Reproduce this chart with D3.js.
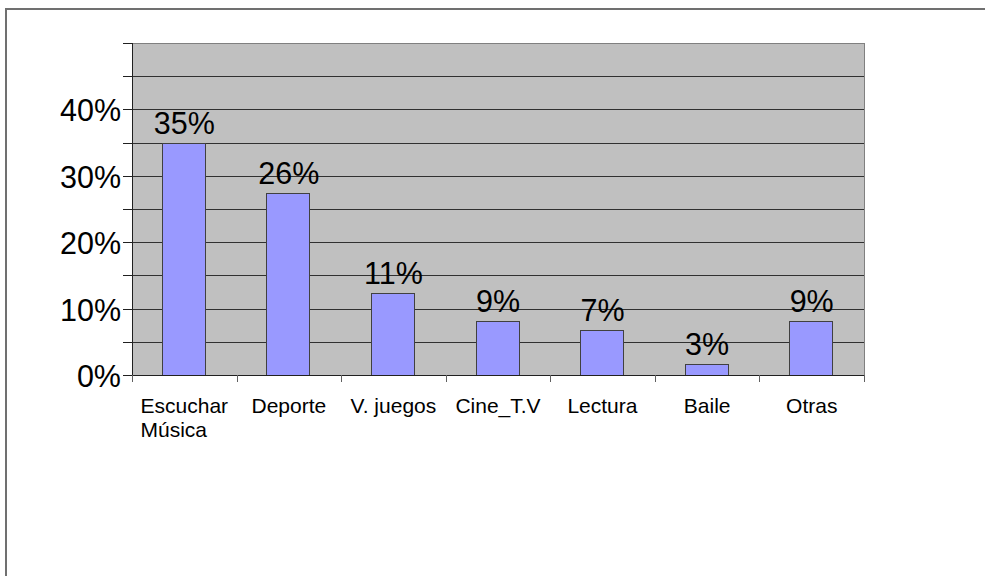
<!DOCTYPE html>
<html>
<head>
<meta charset="utf-8">
<script src="https://cdn.jsdelivr.net/npm/d3@7"></script>
<style>
  body { margin: 0; background: #fff; }
  text { font-family: "Liberation Sans", Arial, sans-serif; fill: #000; }
</style>
</head>
<body>
<script>
// activity shares, bar heights, printed labels as shown
var categories = [["Escuchar", "Música"], ["Deporte"], ["V. juegos"], ["Cine_T.V"], ["Lectura"], ["Baile"], ["Otras"]];
var barValues = [0.35, 0.274, 0.124, 0.081, 0.068, 0.017, 0.081];
var labelValues = [0.35, 0.26, 0.11, 0.09, 0.07, 0.03, 0.09];
var gridTicks = [0, 0.05, 0.1, 0.15, 0.2, 0.25, 0.3, 0.35, 0.4, 0.45, 0.5];
var labelTicks = [0, 0.1, 0.2, 0.3, 0.4];

var W = 985, H = 576;
var plotLeft = 132, plotRight = 864, plotTop = 43, plotBottom = 375;
var pct = d3.format(".0%");

var svg = d3.select("body")
        .append("svg")
        .attr("width", W)
        .attr("height", H);

// outer frame (only top and left edges are visible)
svg.append("line").attr("x1", 5).attr("x2", W).attr("y1", 9).attr("y2", 9)
    .attr("stroke", "#707070").attr("stroke-width", 2);
svg.append("line").attr("x1", 6).attr("x2", 6).attr("y1", 8).attr("y2", H)
    .attr("stroke", "#707070").attr("stroke-width", 2);

var x = d3.scaleBand()
        .domain(d3.range(categories.length))
        .range([plotLeft, plotRight])
        .padding(0);

var y = d3.scaleLinear()
        .domain([0, 0.5])
        .range([plotBottom, plotTop]);

// plot area
svg.append("rect")
    .attr("x", plotLeft).attr("y", plotTop)
    .attr("width", plotRight - plotLeft).attr("height", plotBottom - plotTop)
    .attr("fill", "#c0c0c0");

svg.selectAll("line.grid")
    .data(gridTicks.slice(1))
    .enter()
    .append("line")
    .attr("class", "grid")
    .attr("x1", plotLeft).attr("x2", plotRight)
    .attr("y1", function(d) { return Math.round(y(d)) + 0.5; })
    .attr("y2", function(d) { return Math.round(y(d)) + 0.5; })
    .attr("stroke", function(d) { return d === 0.5 ? "#808080" : "#303030"; })
    .attr("stroke-width", 1);

// right border of plot
svg.append("line").attr("x1", plotRight + 0.5).attr("x2", plotRight + 0.5)
    .attr("y1", plotTop).attr("y2", plotBottom)
    .attr("stroke", "#808080");

// bars
var barW = x.bandwidth() * 0.41;
svg.selectAll("rect.bar")
    .data(barValues)
    .enter()
    .append("rect")
    .attr("class", "bar")
    .attr("x", function(d, i) { return Math.round(x(i) + x.bandwidth() / 2 - barW / 2 - 1) + 0.5; })
    .attr("y", function(d) { return Math.round(y(d)) + 0.5; })
    .attr("width", Math.round(barW))
    .attr("height", function(d) { return Math.round(y(0)) - Math.round(y(d)); })
    .attr("fill", "#9999ff")
    .attr("stroke", "#404040")
    .attr("stroke-width", 1);

// value labels
svg.selectAll("text.val")
    .data(labelValues)
    .enter()
    .append("text")
    .attr("class", "val")
    .attr("x", function(d, i) { return x(i) + x.bandwidth() / 2; })
    .attr("y", function(d, i) { return y(barValues[i]) - 9; })
    .attr("text-anchor", "middle")
    .style("font-size", "30.5px")
    .text(function(d) { return pct(d); });

// y axis
svg.append("line").attr("x1", plotLeft + 0.5).attr("x2", plotLeft + 0.5)
    .attr("y1", plotTop).attr("y2", plotBottom)
    .attr("stroke", "#202020");
svg.selectAll("line.ytick")
    .data(gridTicks)
    .enter()
    .append("line")
    .attr("class", "ytick")
    .attr("x1", plotLeft - 9).attr("x2", plotLeft)
    .attr("y1", function(d) { return Math.round(y(d)) + 0.5; })
    .attr("y2", function(d) { return Math.round(y(d)) + 0.5; })
    .attr("stroke", "#202020");
svg.selectAll("text.ylab")
    .data(labelTicks)
    .enter()
    .append("text")
    .attr("class", "ylab")
    .attr("x", 121)
    .attr("y", function(d) { return y(d) + 12; })
    .attr("text-anchor", "end")
    .style("font-size", "30.5px")
    .text(function(d) { return pct(d); });

// x axis
svg.append("line").attr("x1", plotLeft).attr("x2", plotRight + 1)
    .attr("y1", plotBottom + 0.5).attr("y2", plotBottom + 0.5)
    .attr("stroke", "#202020");
svg.selectAll("line.xtick")
    .data(d3.range(categories.length + 1))
    .enter()
    .append("line")
    .attr("class", "xtick")
    .attr("x1", function(i) { return Math.round(plotLeft + i * x.step()) + 0.5; })
    .attr("x2", function(i) { return Math.round(plotLeft + i * x.step()) + 0.5; })
    .attr("y1", plotBottom).attr("y2", plotBottom + 7)
    .attr("stroke", "#606060");

// category labels; wrapped lines share a left edge, block centred in band
var catG = svg.selectAll("g.cat")
    .data(categories)
    .enter()
    .append("g")
    .attr("class", "cat");
catG.each(function(lines, i) {
    var g = d3.select(this);
    var t = g.append("text")
        .style("font-size", "21px")
        .attr("y", 413);
    t.selectAll("tspan")
        .data(lines)
        .enter()
        .append("tspan")
        .attr("dy", function(d, j) { return j === 0 ? 0 : 24; })
        .attr("x", 0)
        .text(function(d) { return d; });
    var w = t.node().getBBox().width;
    g.attr("transform", "translate(" + (x(i) + x.bandwidth() / 2 - w / 2) + ",0)");
});
</script>
</body>
</html>
